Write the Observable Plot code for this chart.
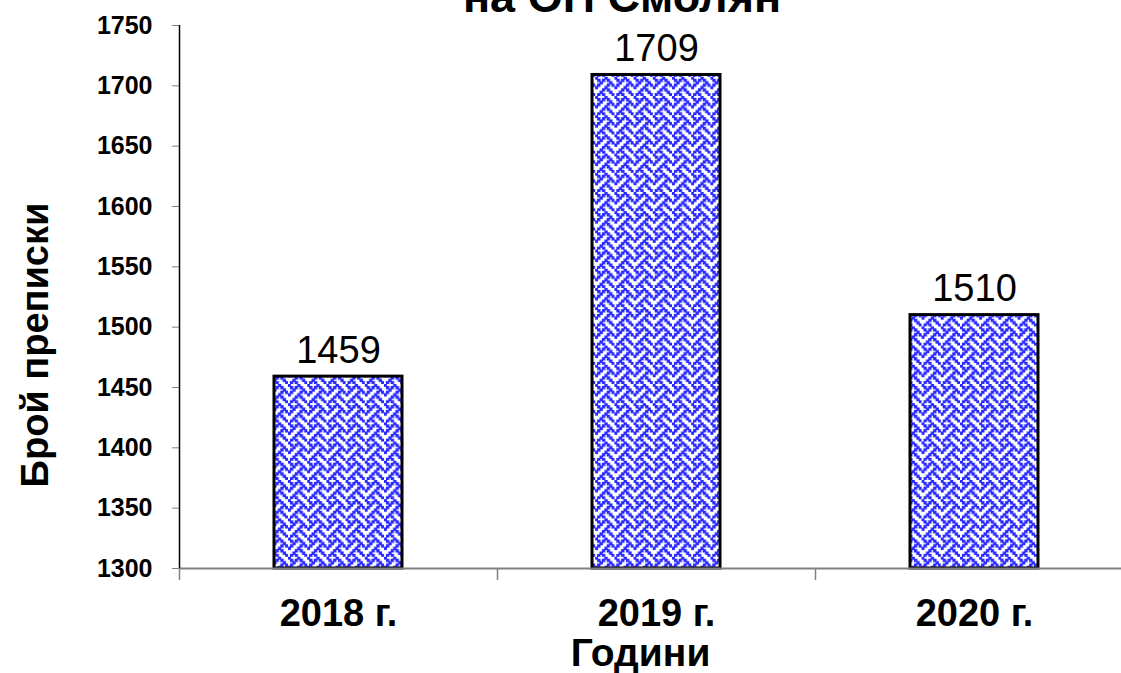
<!DOCTYPE html>
<html>
<head>
<meta charset="utf-8">
<script src="https://cdn.jsdelivr.net/npm/d3@7"></script>
<script src="https://cdn.jsdelivr.net/npm/@observablehq/plot@0.6"></script>
<style>
  html, body { margin: 0; padding: 0; background: white; overflow: hidden; }
  #wrap { position: relative; width: 1121px; height: 673px; overflow: hidden; font-family: "Liberation Sans", Arial, sans-serif; }
  #title { position: absolute; top: -25px; left: 100px; width: 1044px; text-align: center; font-size: 45px; line-height: 44px; font-weight: bold; color: black; }
  #chart { position: absolute; top: 0; left: 0; }
</style>
</head>
<body>
<div id="wrap">
  <div id="chart"></div>
  <div id="title">на ОП Смолян</div>
</div>
<script>
// ---- data ----
const categories = ["2018 г.", "2019 г.", "2020 г."];
const values = [1459, 1709, 1510];
const yDomain = [1300, 1750];
const yTicks = [1300, 1350, 1400, 1450, 1500, 1550, 1600, 1650, 1700, 1750];
const xLabel = "Години";
const yLabel = "Брой преписки";

const data = categories.map((c, i) => ({cat: c, i, value: values[i]}));
const font = "Liberation Sans, Arial, sans-serif";

const plot = Plot.plot({
  width: 1121,
  height: 673,
  marginLeft: 179,
  marginRight: -12,
  marginTop: 25,
  marginBottom: 105,
  style: {fontFamily: font, background: "white", color: "black", overflow: "hidden"},
  x: {type: "linear", domain: [0, categories.length], axis: null},
  y: {domain: yDomain, axis: null},
  marks: [
    Plot.rect(data, {
      x1: "i", x2: d => d.i + 1,
      y1: () => yDomain[0], y2: "value",
      insetLeft: 95, insetRight: 95,
      fill: "url(#weave)", stroke: "black", strokeWidth: 3
    }),
    Plot.text(data, {
      x: d => d.i + 0.5, y: "value", text: d => String(d.value),
      lineAnchor: "bottom", dy: -14, fontSize: 38, fill: "black"
    }),
    Plot.axisY({
      ticks: yTicks, tickSize: 7, tickPadding: 20, stroke: "#808080",
      tickFormat: d => String(d),
      fontSize: 25, fontWeight: "bold", fill: "black", label: null
    }),
    Plot.axisX({
      ticks: d3.range(0, categories.length + 1), tickSize: 12, tickFormat: () => "",
      stroke: "#808080", strokeWidth: 1.5, label: null
    }),
    Plot.axisX({
      ticks: data.map(d => d.i + 0.5), tickSize: 0, tickPadding: 31,
      tickFormat: (t) => categories[Math.floor(t)],
      fontSize: 38, fontWeight: "bold", fill: "black", label: null
    }),
    Plot.ruleY([yDomain[0]], {stroke: "#808080", strokeWidth: 2}),
    Plot.ruleX([0], {y1: yDomain[0], y2: yDomain[1], stroke: "black", strokeWidth: 1.5}),
    Plot.text([xLabel], {
      frameAnchor: "bottom", dx: -16, dy: 97, lineAnchor: "bottom",
      fontSize: 39, fontWeight: "bold", fill: "black"
    }),
    Plot.text([yLabel], {
      frameAnchor: "left", textAnchor: "middle", dx: -144, dy: 48, rotate: -90,
      fontSize: 38, fontWeight: "bold", fill: "black"
    })
  ]
});

// weave pattern definition (8x8 bitmap scaled up)
const weaveRows = [0x88, 0x54, 0x22, 0x45, 0x88, 0x14, 0x22, 0x51];
const s = 2.4;
const svg = d3.select(plot);
const defs = svg.insert("defs", ":first-child");
const pat = defs.append("pattern")
  .attr("id", "weave").attr("patternUnits", "userSpaceOnUse")
  .attr("width", 8 * s).attr("height", 8 * s);
pat.append("rect").attr("width", 8 * s).attr("height", 8 * s).attr("fill", "white");
weaveRows.forEach((row, r) => {
  for (let c = 0; c < 8; c++) {
    if (row & (0x80 >> c)) {
      pat.append("rect").attr("x", c * s - 0.5).attr("y", r * s - 0.5)
        .attr("width", s + 1).attr("height", s + 1).attr("fill", "#2a2aff");
    }
  }
});

document.getElementById("chart").appendChild(plot);
</script>
</body>
</html>
